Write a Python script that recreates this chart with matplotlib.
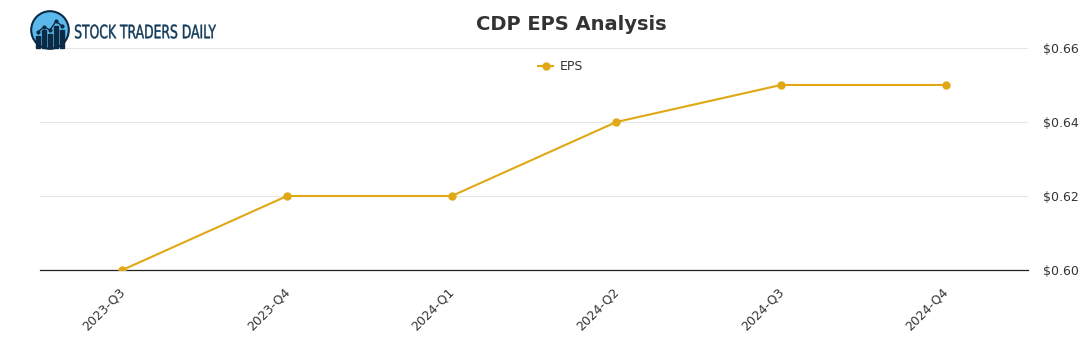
import matplotlib
matplotlib.use('Agg')
import matplotlib.pyplot as plt
from matplotlib.patches import Circle, Rectangle, PathPatch
from matplotlib.textpath import TextPath
from matplotlib.font_manager import FontProperties
from matplotlib.transforms import Affine2D, ScaledTranslation
import numpy as np

# Datos del grafico
trimestres = ['2023-Q3', '2023-Q4', '2024-Q1', '2024-Q2', '2024-Q3', '2024-Q4']
eps = [0.60, 0.62, 0.62, 0.64, 0.65, 0.65]
ticks_y = [0.60, 0.62, 0.64, 0.66]

color_eps = '#e0a814'
color_texto = '#333333'

fig = plt.figure(figsize=(10.91, 3.5), dpi=100)
ax = fig.add_axes([0.0367, 0.2286, 0.9056, 0.6343])

x = np.arange(len(trimestres))
ax.plot(x, eps, color=color_eps, linewidth=1.5, marker='o', markersize=5,
        label='EPS', zorder=3)

ax.set_xlim(-0.5, len(trimestres) - 0.5)
ax.set_ylim(0.60, 0.66)
ax.set_xticks(x)
ax.set_xticklabels(trimestres, rotation=45, ha='right', rotation_mode='anchor',
                   fontsize=9, color=color_texto)
ax.set_yticks(ticks_y)
ax.set_yticklabels(['$%.2f' % v for v in ticks_y], fontsize=9, color=color_texto)
ax.yaxis.tick_right()
ax.tick_params(axis='y', length=0, pad=11)
ax.tick_params(axis='x', length=0, pad=11)
desplazamiento = ScaledTranslation(-4 / 100, 0, fig.dpi_scale_trans)
for etiqueta in ax.get_xticklabels():
    etiqueta.set_transform(etiqueta.get_transform() + desplazamiento)

ax.grid(axis='y', color='#e6e6e6', linewidth=0.8)
ax.set_axisbelow(True)
for lado in ['top', 'left', 'right']:
    ax.spines[lado].set_visible(False)
ax.spines['bottom'].set_color('#222222')
ax.spines['bottom'].set_linewidth(0.9)

ax.legend(loc='upper center', bbox_to_anchor=(0.527, 0.997), frameon=False,
          fontsize=9, handlelength=1.2, handletextpad=0.5,
          labelcolor=color_texto)

fig.text(571 / 1091, 1 - 24 / 350, 'CDP EPS Analysis', ha='center', va='center',
         fontsize=14, fontweight='bold', color=color_texto)

# Logo
ax_logo = fig.add_axes([30 / 1091, 1 - 50 / 350, 40 / 1091, 40 / 350])
ax_logo.set_xlim(0, 1)
ax_logo.set_ylim(0, 1)
ax_logo.set_aspect('equal')
ax_logo.axis('off')
ax_logo.add_patch(Circle((0.5, 0.5), 0.47, facecolor='#5bb8ea',
                         edgecolor='#0d2a44', linewidth=1.5))
for bx, bh in [(0.2, 0.3), (0.35, 0.45), (0.5, 0.35), (0.65, 0.55), (0.8, 0.45)]:
    ax_logo.add_patch(Rectangle((bx - 0.05, 0.05), 0.1, bh, color='#0d2a44'))
ax_logo.plot([0.2, 0.35, 0.5, 0.65, 0.8], [0.45, 0.58, 0.5, 0.72, 0.6],
             color='#0d2a44', linewidth=1, marker='o', markersize=2)

# Texto del logo condensado (ancho 141 px, alto de mayusculas ~14 px)
ax_txt = fig.add_axes([0, 0, 1, 1], facecolor='none')
ax_txt.set_xlim(0, 1091)
ax_txt.set_ylim(350, 0)
ax_txt.axis('off')
ruta = TextPath((0, 0), 'STOCK TRADERS DAILY', size=10,
                prop=FontProperties(family='DejaVu Sans'))
ext = ruta.get_extents()
sx = 141 / ext.width
sy = 14 / ext.height
ruta = ruta.transformed(Affine2D().translate(-ext.x0, -ext.y0)
                        .scale(sx, -sy).translate(75, 38.5))
ax_txt.add_patch(PathPatch(ruta, facecolor='#123a5a', edgecolor='#123a5a',
                           linewidth=0.3))

fig.savefig('out.png', dpi=100)
